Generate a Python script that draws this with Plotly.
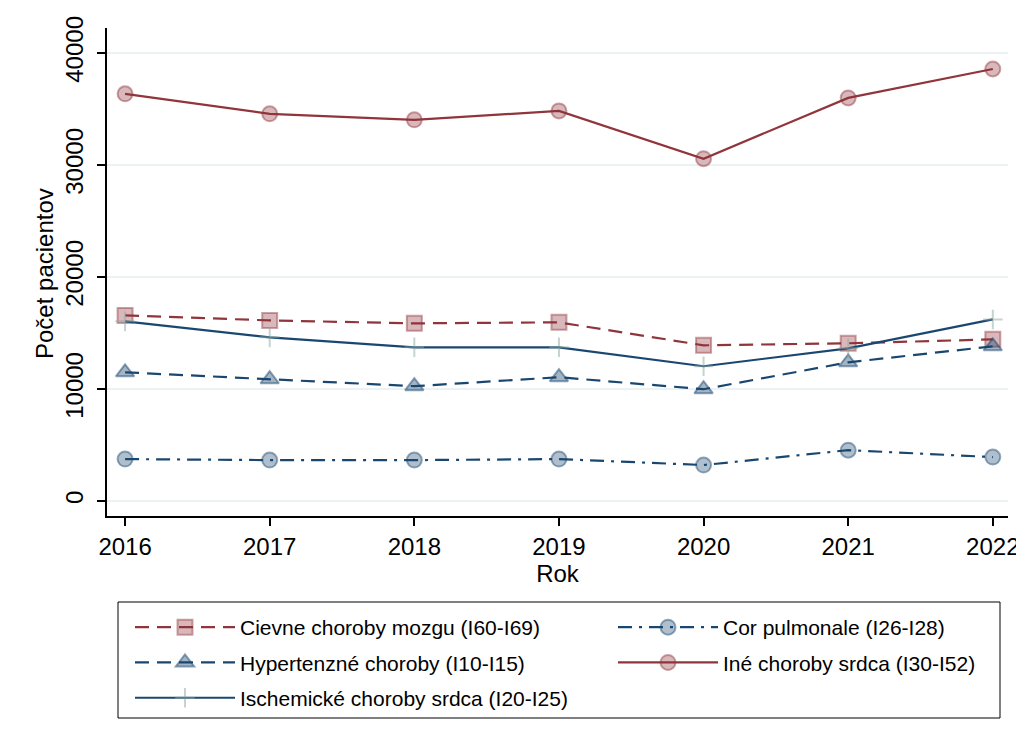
import plotly.graph_objects as go

years = [2016, 2017, 2018, 2019, 2020, 2021, 2022]
cievne = [16570, 16120, 15860, 15950, 13900, 14080, 14430]
cor_pulmonale = [3740, 3650, 3650, 3740, 3210, 4540, 3920]
hypertenzne = [11490, 10870, 10250, 11050, 9980, 12380, 13810]
ine = [36350, 34570, 34030, 34830, 30560, 35990, 38570]
ischemicke = [16040, 14610, 13720, 13720, 12030, 13630, 16210]

names = [
    "Cievne choroby mozgu (I60-I69)",
    "Cor pulmonale (I26-I28)",
    "Hypertenzné choroby (I10-I15)",
    "Iné choroby srdca (I30-I52)",
    "Ischemické choroby srdca (I20-I25)",
]
y_ticks = [0, 10000, 20000, 30000, 40000]
x_title = "Rok"
y_title = "Počet pacientov"

RED = "#90353b"
BLUE = "#1a476f"
FONT = "Liberation Sans, Arial, sans-serif"

fig = go.Figure()

# (values, name, colour, dash, symbol, fill, outline, size, legend)
specs = [
    (cievne, names[0], RED, "14px,8px", "square", "rgba(144,53,59,0.35)", "rgba(144,53,59,0.45)", 15, "legend"),
    (cor_pulmonale, names[1], BLUE, "14px,7px,3px,7px", "circle", "rgba(26,71,111,0.35)", "rgba(26,71,111,0.45)", 15, "legend2"),
    (hypertenzne, names[2], BLUE, "14px,8px", "triangle-up", "rgba(26,71,111,0.4)", "rgba(26,71,111,0.5)", 16, "legend"),
    (ine, names[3], RED, "solid", "circle", "rgba(144,53,59,0.35)", "rgba(144,53,59,0.45)", 15, "legend2"),
    (ischemicke, names[4], BLUE, "solid", "cross-thin", "rgba(140,170,160,0.5)", "rgba(140,170,160,0.5)", 14, "legend"),
]

for i, (vals, name, col, dash, sym, fill, outline, size, leg) in enumerate(specs):
    fig.add_trace(go.Scatter(
        x=years, y=vals, name=name, mode="lines+markers",
        line=dict(color=col, width=2.2, dash=dash),
        marker=dict(symbol=sym, size=size, color=fill,
                    line=dict(color=outline, width=2)),
        legend=leg, legendgroup="g%d" % i,
    ))

# page places the figure at an 8px body margin; work in page pixels
OFF = 8
W, H = 1024 - OFF, 751 - OFF
PL, PR, PT, PB = 107 - OFF, 1008 - OFF, 28 - OFF, 516 - OFF
PW, PH = PR - PL, PB - PT


def px_x(x):
    return (x - OFF - PL) / PW


def px_y(y):
    return (PB - (y - OFF)) / PH


leg_common = dict(
    orientation="v", xanchor="left", yanchor="top",
    font=dict(size=21, family=FONT),
    borderwidth=0, bgcolor="rgba(0,0,0,0)",
    itemwidth=100, tracegroupgap=5, traceorder="grouped",
)

fig.update_layout(
    width=W, height=H,
    paper_bgcolor="white", plot_bgcolor="white",
    margin=dict(l=PL, r=W - PR, t=PT, b=H - PB),
    font=dict(family=FONT, color="black", size=24),
    showlegend=True,
    legend=dict(x=px_x(130), y=px_y(607), **leg_common),
    legend2=dict(x=px_x(613), y=px_y(607), **leg_common),
    shapes=[dict(
        type="rect", xref="paper", yref="paper",
        x0=px_x(118), x1=px_x(1000), y0=px_y(718), y1=px_y(602),
        line=dict(color="black", width=1), fillcolor="rgba(0,0,0,0)",
    )],
    annotations=[dict(
        text=y_title, textangle=-90, showarrow=False,
        xref="paper", yref="paper", x=px_x(44), y=px_y(274),
        xanchor="center", yanchor="middle",
        font=dict(size=24, family=FONT, color="black"),
    )],
)

fig.update_xaxes(
    range=[2015.875, 2022.105],
    tickvals=years, ticktext=[str(y) for y in years],
    showline=True, linecolor="black", linewidth=1.5,
    ticks="outside", ticklen=8, tickcolor="black", tickwidth=1.5,
    showgrid=False, zeroline=False, automargin=False,
    tickfont=dict(size=24),
    title=dict(text=x_title, font=dict(size=24), standoff=4),
)
fig.update_yaxes(
    range=[-1340, 42230],
    tickvals=y_ticks, ticktext=[str(v) for v in y_ticks],
    tickangle=-90, ticklabelstandoff=5,
    showline=True, linecolor="black", linewidth=1.5,
    ticks="outside", ticklen=8, tickcolor="black", tickwidth=1.5,
    showgrid=True, gridcolor="#eaf2f3", gridwidth=2,
    zeroline=False, automargin=False,
    tickfont=dict(size=24),
)

fig.write_html("out.html")
